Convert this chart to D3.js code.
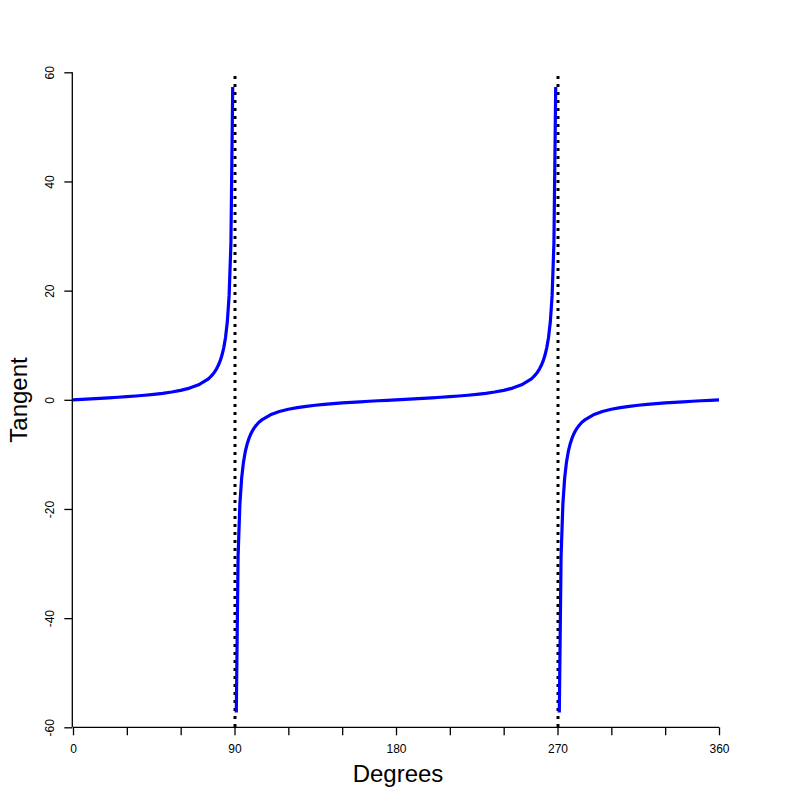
<!DOCTYPE html>
<html><head><meta charset="utf-8">
<script src="https://cdn.jsdelivr.net/npm/d3@7"></script>
<style>body{margin:0;background:#fff}svg{display:block;font-family:"Liberation Sans",Arial,sans-serif}</style>
</head><body><svg id="c" width="800" height="800"></svg>
<script>
// Degrees and tangent values (null = asymptote gap)
const degrees = [0,5,10,15,20,25,30,35,40,45,50,55,60,65,70,75,76,77,78,79,80,81,82,83,84,85,86,87,88,89,90,
  91,92,93,94,95,96,97,98,99,100,101,102,103,104,105,110,115,120,125,130,135,140,145,150,155,160,165,170,175,180,
  185,190,195,200,205,210,215,220,225,230,235,240,245,250,255,256,257,258,259,260,261,262,263,264,265,266,267,268,269,270,
  271,272,273,274,275,276,277,278,279,280,281,282,283,284,285,290,295,300,305,310,315,320,325,330,335,340,345,350,355,360];
const tangent = [0,0.0875,0.1763,0.2679,0.364,0.4663,0.5774,0.7002,0.8391,1,1.1918,1.4281,1.7321,2.1445,2.7475,3.7321,4.0108,4.3315,4.7046,5.1446,5.6713,6.3138,7.1154,8.1443,9.5144,11.4301,14.3007,19.0811,28.6363,57.29,null,
  -57.29,-28.6363,-19.0811,-14.3007,-11.4301,-9.5144,-8.1443,-7.1154,-6.3138,-5.6713,-5.1446,-4.7046,-4.3315,-4.0108,-3.7321,-2.7475,-2.1445,-1.7321,-1.4281,-1.1918,-1,-0.8391,-0.7002,-0.5774,-0.4663,-0.364,-0.2679,-0.1763,-0.0875,0,
  0.0875,0.1763,0.2679,0.364,0.4663,0.5774,0.7002,0.8391,1,1.1918,1.4281,1.7321,2.1445,2.7475,3.7321,4.0108,4.3315,4.7046,5.1446,5.6713,6.3138,7.1154,8.1443,9.5144,11.4301,14.3007,19.0811,28.6363,57.29,null,
  -57.29,-28.6363,-19.0811,-14.3007,-11.4301,-9.5144,-8.1443,-7.1154,-6.3138,-5.6713,-5.1446,-4.7046,-4.3315,-4.0108,-3.7321,-2.7475,-2.1445,-1.7321,-1.4281,-1.1918,-1,-0.8391,-0.7002,-0.5774,-0.4663,-0.364,-0.2679,-0.1763,-0.0875,0];
const asymptotes = [90, 270];
const xTicks = [0,30,60,90,120,150,180,210,240,270,300,330,360];
const xTickLabels = [0,90,180,270,360];
const yTicks = [-60,-40,-20,0,20,40,60];

const svg = d3.select("#c");
const x = d3.scaleLinear().domain([0,360]).range([73,719]);
const y = d3.scaleLinear().domain([-60,60]).range([727.3,72.3]);

// X axis
const xAxis = svg.append("g").attr("transform","translate(0,727.3)")
  .call(d3.axisBottom(x).tickValues(xTicks).tickSize(8).tickPadding(9)
    .tickFormat(d => xTickLabels.includes(d) ? d : ""));
xAxis.select(".domain").attr("d",`M${x(0)},0H${x(360)}`).attr("stroke","#000").attr("stroke-width",1.3);
xAxis.selectAll(".tick line").attr("stroke","#000").attr("stroke-width",1.3);
xAxis.selectAll("text").attr("font-size",12).attr("fill","#000");

// Y axis
const yAxis = svg.append("g").attr("transform","translate(72.3,0)")
  .call(d3.axisLeft(y).tickValues(yTicks).tickSize(8).tickFormat(d=>d));
yAxis.select(".domain").attr("d",`M0,${y(-60)}V${y(60)}`).attr("stroke","#000").attr("stroke-width",1.3);
yAxis.selectAll(".tick line").attr("stroke","#000").attr("stroke-width",1.3);
yAxis.selectAll("text").attr("font-size",12).attr("fill","#000")
  .attr("x",0).attr("dy",null).attr("text-anchor","middle")
  .attr("transform","translate(-22,0) rotate(-90)").attr("dominant-baseline","central");

// asymptote lines
svg.selectAll(".asym").data(asymptotes).join("line")
  .attr("x1",d=>x(d)+0.5).attr("x2",d=>x(d)+0.5)
  .attr("y1",76).attr("y2",y(-60))
  .attr("stroke","#000").attr("stroke-width",3).attr("stroke-dasharray","3,5");

// curve
const pts = degrees.map((d,i)=>({d, t: tangent[i]}));
const line = d3.line().defined(p=>p.t!==null).x(p=>x(p.d)).y(p=>y(p.t));
svg.append("path").datum(pts).attr("d",line)
  .attr("fill","none").attr("stroke","#0000ff").attr("stroke-width",3.2)
  .attr("stroke-linejoin","round").attr("stroke-linecap","butt");

// titles
svg.append("text").attr("x",398).attr("y",782).attr("text-anchor","middle")
  .attr("font-size",24).text("Degrees");
svg.append("text").attr("transform","translate(27,400) rotate(-90)").attr("text-anchor","middle")
  .attr("font-size",24).text("Tangent");
</script></body></html>
